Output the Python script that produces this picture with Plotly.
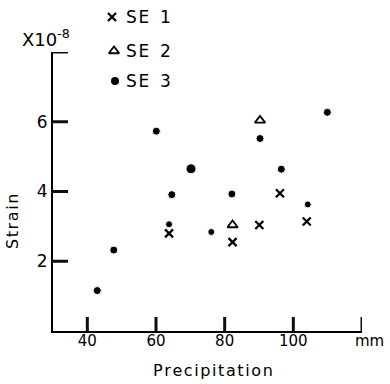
import plotly.graph_objects as go

# ---- data ----
se1_x = [63.8, 82.3, 90.1, 96.1, 103.9]
se1_y = [2.80, 2.55, 3.04, 3.95, 3.14]

se2_x = [82.3, 90.3]
se2_y = [3.04, 6.04]

se3_x = [42.9, 47.7, 60.1, 63.8, 64.6, 70.2, 76.1, 82.1, 90.3, 96.5, 104.2, 109.9]
se3_y = [1.16, 2.32, 5.73, 3.06, 3.91, 4.65, 2.84, 3.93, 5.52, 4.64, 3.63, 6.27]
se3_size = [8, 8, 8, 7, 8, 10, 7, 8, 8, 8, 7, 8]

x_ticks = [40, 60, 80, 100, 120]
x_ticklabels = ["40", "60", "80", "100", ""]
y_ticks = [2, 4, 6, 8]
y_ticklabels = ["2", "4", "6", ""]

series_names = ["SE 1", "SE 2", "SE 3"]

# ---- layout constants (pixels) ----
W, H = 390, 384
L, R, B = 53, 28, 53
PLOT_TOP = 52          # top of the data axes
XR = [30, 120]
YR = [0, 8]
FONT = "DejaVu Sans"
HS = "\u200a"          # hair space for letter spacing
TICK_LEN = 14          # px
TICK_COLOR = "rgb(15,15,15)"

area_w = W - L - R
area_h = H - B          # margin top = 0, main y axis uses only part of it
plot_h = H - B - PLOT_TOP
y_dom_top = plot_h / area_h


def px_to_paper(px, py):
    return (px - L) / area_w, (H - B - py) / area_h


def spaced(s):
    return HS.join(s)


X_SYM = dict(symbol="x-thin", size=8, color="black", line=dict(width=2.3, color="black"))
T_SYM = dict(symbol="triangle-up-open", size=9, color="black", line=dict(width=1.8, color="black"))
fig = go.Figure()

# inward tick marks at the tick values (length converted from px to data units)
tick_dy = TICK_LEN / plot_h * (YR[1] - YR[0])
tick_dx = (TICK_LEN + 1) / area_w * (XR[1] - XR[0])
for v in x_ticks:
    fig.add_trace(go.Scatter(x=[v, v], y=[YR[0], YR[0] + tick_dy], mode="lines",
                             line=dict(color=TICK_COLOR, width=3),
                             cliponaxis=False, showlegend=False, hoverinfo="skip"))
for v in y_ticks:
    fig.add_trace(go.Scatter(x=[XR[0], XR[0] + tick_dx], y=[v, v], mode="lines",
                             line=dict(color=TICK_COLOR, width=3),
                             cliponaxis=False, showlegend=False, hoverinfo="skip"))

fig.add_trace(go.Scatter(x=se1_x, y=se1_y, xaxis="x", yaxis="y", mode="markers", name="SE 1",
                         marker=X_SYM, opacity=1))
fig.add_trace(go.Scatter(x=se2_x, y=se2_y, xaxis="x", yaxis="y", mode="markers", name="SE 2",
                         marker=T_SYM, opacity=1))
fig.add_trace(go.Scatter(x=se3_x, y=se3_y, xaxis="x", yaxis="y", mode="markers", name="SE 3",
                         marker=dict(symbol="circle", size=se3_size, color="black", opacity=1),
                         opacity=1))

# hand-drawn style legend above the plot, on an invisible pixel-space axis pair
leg_px_x = [112, 114, 115]
leg_px_y = [17, 51, 81]
leg_sym = [X_SYM, T_SYM, dict(symbol="circle", size=8, color="black")]
for lx, ly, sym, name in zip(leg_px_x, leg_px_y, leg_sym, series_names):
    fig.add_trace(go.Scatter(x=[lx], y=[ly], xaxis="x2", yaxis="y2", mode="markers",
                             marker=sym, showlegend=False, hoverinfo="skip"))
    ax, ay = px_to_paper(124, ly)
    fig.add_annotation(x=ax, y=ay, xref="paper", yref="paper",
                       text="S" + HS + "E  " + name.split()[1],
                       showarrow=False, xanchor="left", yanchor="middle",
                       font=dict(family=FONT, size=17, color="black"))

# axis annotations
ax, ay = px_to_paper(20, 38)
fig.add_annotation(x=ax, y=ay, xref="paper", yref="paper", text="X10<sup>-8</sup>",
                   showarrow=False, xanchor="left", yanchor="middle",
                   font=dict(family=FONT, size=18, color="black"))
ax, ay = px_to_paper(12, 222)
fig.add_annotation(x=ax, y=ay, xref="paper", yref="paper", text=spaced("Strain"),
                   textangle=-90, showarrow=False, xanchor="center", yanchor="middle",
                   font=dict(family=FONT, size=16, color="black"))
ax, ay = px_to_paper(213, 370)
fig.add_annotation(x=ax, y=ay, xref="paper", yref="paper", text=spaced("Precipitation"),
                   showarrow=False, xanchor="center", yanchor="middle",
                   font=dict(family=FONT, size=16, color="black"))
ax, ay = px_to_paper(369, 341)
fig.add_annotation(x=ax, y=ay, xref="paper", yref="paper", text="mm",
                   showarrow=False, xanchor="center", yanchor="middle",
                   font=dict(family=FONT, size=15, color="black"))

fig.update_layout(
    width=W, height=H,
    margin=dict(l=L, r=R, t=0, b=B, autoexpand=False),
    paper_bgcolor="white", plot_bgcolor="rgba(0,0,0,0)",
    showlegend=False,
    font=dict(family=FONT, size=15, color="black"),
    xaxis=dict(range=XR, tickvals=x_ticks, ticktext=x_ticklabels, domain=[0, 1],
               anchor="y", ticks="",
               showline=True, linewidth=2, linecolor="black",
               showgrid=False, zeroline=False, ticklabelstandoff=-5,
               tickfont=dict(family=FONT, size=15, color="black")),
    yaxis=dict(range=YR, tickvals=y_ticks, ticktext=y_ticklabels,
               domain=[0, y_dom_top], anchor="x", ticks="",
               showline=True, linewidth=2, linecolor="black",
               showgrid=False, zeroline=False, ticklabelstandoff=0,
               tickfont=dict(family=FONT, size=17, color="black")),
    xaxis2=dict(range=[L, W - R], domain=[0, 1], anchor="y2", visible=False),
    yaxis2=dict(range=[H - B, 0], domain=[0, 1], anchor="x2", visible=False),
)

fig.write_html("out.html", post_script="document.body.style.margin='0';",
               config={"displayModeBar": False})
